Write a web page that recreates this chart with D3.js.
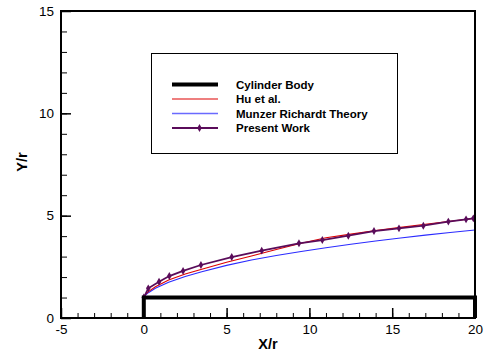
<!DOCTYPE html>
<html>
<head>
<meta charset="utf-8">
<script src="https://cdn.jsdelivr.net/npm/d3@7"></script>
<style>
  body { margin: 0; background: #fff; }
  text { font-family: "Liberation Sans", Arial, sans-serif; }
</style>
</head>
<body>
<svg id="chart" width="486" height="354"></svg>
<script>
// cylinder outline (X/r, Y/r)
var bodyX = [0, 0, 20, 20];
var bodyY = [0, 1, 1, 0];

// Hu et al.
var huX = [0, 0.1, 0.3, 0.7, 1.5, 2.5, 3.5, 5, 6.5, 8, 9.5, 11, 12.5, 14, 15.5, 17, 18.5, 20];
var huY = [1.0, 1.15, 1.3, 1.53, 1.86, 2.15, 2.38, 2.72, 3.03, 3.35, 3.65, 3.92, 4.1, 4.27, 4.43, 4.58, 4.73, 4.87];

// Munzer Richardt theory
var mrX = [0, 0.1, 0.3, 0.7, 1.5, 2.5, 3.5, 5, 6.5, 8, 9.5, 11, 12.5, 14, 15.5, 17, 18.5, 20];
var mrY = [1.0, 1.12, 1.25, 1.45, 1.75, 2.03, 2.26, 2.57, 2.83, 3.05, 3.25, 3.43, 3.6, 3.76, 3.91, 4.05, 4.18, 4.3];

// present work
var pwX = [0, 0.27, 0.92, 1.54, 2.37, 3.45, 5.31, 7.12, 9.37, 10.78, 12.35, 13.9, 15.41, 16.88, 18.39, 19.46, 19.9];
var pwY = [1.0, 1.45, 1.77, 2.05, 2.3, 2.59, 2.98, 3.29, 3.65, 3.81, 4.02, 4.25, 4.38, 4.51, 4.71, 4.82, 4.87];

var legendNames = ['Cylinder Body', 'Hu et al.', 'Munzer Richardt Theory', 'Present Work'];
var xTicks = [-5, 0, 5, 10, 15, 20];
var yTicks = [0, 5, 10, 15];

var margin = { top: 11, right: 11, bottom: 36, left: 61 },
    width = 486 - margin.left - margin.right,
    height = 354 - margin.top - margin.bottom;

var svg = d3.select('#chart');
var g = svg.append('g').attr('transform', 'translate(' + margin.left + ',' + margin.top + ')');

var x = d3.scaleLinear().domain([-5, 20]).range([0, width]);
var y = d3.scaleLinear().domain([0, 15]).range([height, 0]);

function pts(xs, ys) { return xs.map(function (v, i) { return [v, ys[i]]; }); }
var line = d3.line().x(function (d) { return x(d[0]); }).y(function (d) { return y(d[1]); });

g.append('path').datum(pts(mrX, mrY))
    .attr('fill', 'none').attr('stroke', '#2b2bff').attr('stroke-width', 1.1).attr('d', line);
g.append('path').datum(pts(huX, huY))
    .attr('fill', 'none').attr('stroke', '#dd0000').attr('stroke-width', 1.1).attr('d', line);
g.append('path').datum(pts(pwX, pwY))
    .attr('fill', 'none').attr('stroke', '#5a0c5a').attr('stroke-width', 1.8).attr('d', line);

var diamond = d3.symbol().type(d3.symbolDiamond).size(18);
g.selectAll('.pw').data(pts(pwX, pwY)).enter().append('path')
    .attr('class', 'pw')
    .attr('d', diamond)
    .attr('fill', '#5a0c5a')
    .attr('transform', function (d) { return 'translate(' + x(d[0]) + ',' + y(d[1]) + ')'; });

g.append('path').datum(pts(bodyX, bodyY))
    .attr('fill', 'none').attr('stroke', '#000').attr('stroke-width', 4)
    .attr('stroke-linejoin', 'miter').attr('d', line);

// minor ticks
g.append('g').attr('transform', 'translate(0,' + height + ')')
    .call(d3.axisBottom(x).ticks(25).tickSize(-5).tickFormat(''))
    .call(function (a) { a.select('.domain').remove(); });
g.append('g')
    .call(d3.axisLeft(y).ticks(15).tickSize(-6).tickFormat(''))
    .call(function (a) { a.select('.domain').remove(); });

// major ticks, plain hyphen for negatives
var fmt = function (d) { return String(d); };
var xAxis = g.append('g').attr('transform', 'translate(0,' + height + ')')
    .call(d3.axisBottom(x).tickValues(xTicks).tickSize(-10).tickPadding(6).tickFormat(fmt));
var yAxis = g.append('g')
    .call(d3.axisLeft(y).tickValues(yTicks).tickSize(-10).tickPadding(7).tickFormat(fmt));
[xAxis, yAxis].forEach(function (a) {
    a.select('.domain').remove();
    a.selectAll('line').attr('stroke-width', 1.5);
    a.selectAll('text').attr('font-size', 13.5).attr('font-family', '"Liberation Sans", Arial, sans-serif').attr('fill', '#000');
});

// frame
g.append('rect').attr('width', width).attr('height', height)
    .attr('fill', 'none').attr('stroke', '#000').attr('stroke-width', 2);

svg.append('text').attr('x', margin.left + width / 2).attr('y', 349)
    .attr('text-anchor', 'middle').attr('font-size', 14.5).attr('font-weight', 'bold').text('X/r');
svg.append('text').attr('transform', 'translate(27,162) rotate(-90)')
    .attr('text-anchor', 'middle').attr('font-size', 14.5).attr('font-weight', 'bold').text('Y/r');

// legend
var leg = svg.append('g');
leg.append('rect').attr('x', 151.5).attr('y', 53.5).attr('width', 246).attr('height', 100)
    .attr('fill', '#fff').attr('stroke', '#000').attr('stroke-width', 1);
var legStyle = [
    { c: '#000', w: 4 },
    { c: '#dd0000', w: 1.1 },
    { c: '#6a6aff', w: 1.5 },
    { c: '#5a0c5a', w: 1.8 }
];
var legRows = [84.5, 99, 113.5, 128];
legendNames.forEach(function (name, i) {
    leg.append('line').attr('x1', 172).attr('x2', 218).attr('y1', legRows[i]).attr('y2', legRows[i])
        .attr('stroke', legStyle[i].c).attr('stroke-width', legStyle[i].w);
    if (i === 3) {
        leg.append('path').attr('d', diamond).attr('fill', legStyle[i].c)
            .attr('transform', 'translate(199.5,' + legRows[i] + ')');
    }
    leg.append('text').attr('x', 236).attr('y', legRows[i] + 4)
        .attr('font-size', 11.5).attr('font-weight', 'bold').text(name);
});
</script>
</body>
</html>
